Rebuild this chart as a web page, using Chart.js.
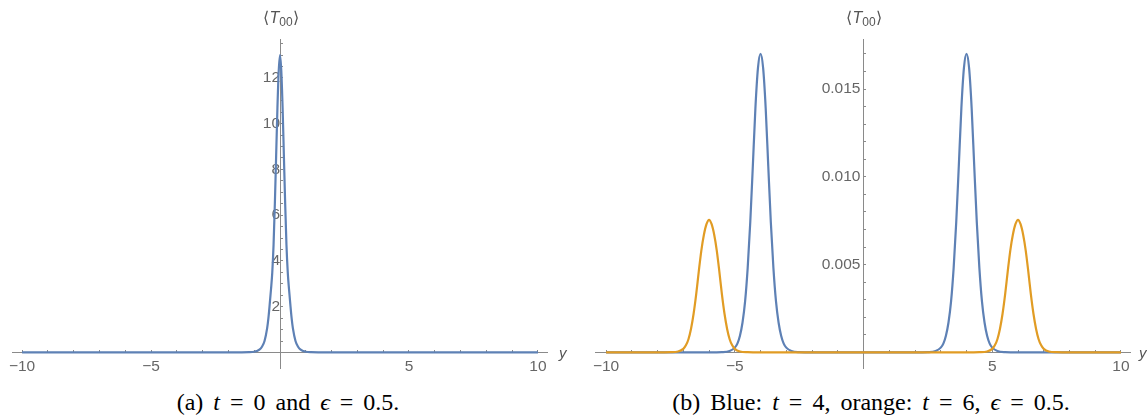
<!DOCTYPE html>
<html>
<head>
<meta charset="utf-8">
<script src="https://cdn.jsdelivr.net/npm/chart.js@4.4.0/dist/chart.umd.min.js"></script>
<style>
  body { margin: 0; width: 1147px; height: 418px; background: #fff; position: relative; overflow: hidden; font-family: "Liberation Sans", Arial, sans-serif; }
  canvas { position: absolute; top: 0; }
  #left { left: 0; }
  #right { left: 575px; }
  .ylab { position: absolute; top: 8px; font-size: 16px; color: #555; transform: translateX(-50%); white-space: nowrap; }
  .ylab sub { font-size: 12px; vertical-align: -3px; }
  .xlab { position: absolute; top: 344px; font-size: 15px; font-style: italic; color: #555; }
  .caption { position: absolute; top: 389px; font-family: "Liberation Serif", serif; font-size: 24px; word-spacing: 4px; color: #000; transform: translateX(-50%); white-space: nowrap; }
</style>
</head>
<body>
<canvas id="left" width="570" height="385"></canvas>
<canvas id="right" width="572" height="385"></canvas>

<div class="ylab" style="left:281px">⟨<i>T</i><sub>00</sub>⟩</div>
<div class="ylab" style="left:864px">⟨<i>T</i><sub>00</sub>⟩</div>
<div class="xlab" style="left:559px">y</div>
<div class="xlab" style="left:1139px">y</div>

<div class="caption" style="left:288px">(a) <i>t</i> = 0 and <i>ϵ</i> = 0.5.</div>
<div class="caption" style="left:871px">(b) Blue: <i>t</i> = 4, orange: <i>t</i> = 6, <i>ϵ</i> = 0.5.</div>

<script>
// (a) t = 0
const leftX = [-10, -3, -1.5, -1.2, -1, -0.9, -0.8, -0.7, -0.6, -0.5, -0.45, -0.4, -0.35, -0.3, -0.25, -0.2, -0.15, -0.1, -0.05,
  0, 0.05, 0.1, 0.15, 0.2, 0.25, 0.3, 0.35, 0.4, 0.45, 0.5, 0.6, 0.7, 0.8, 0.9, 1, 1.2, 1.5, 3, 10];
const leftY = [0, 0, 0.003, 0.01, 0.03, 0.06, 0.12, 0.25, 0.5, 1.05, 1.5, 2.1, 2.75, 3.5, 4.7, 6.5, 8.6, 10.7, 12.3,
  13.0, 12.3, 10.7, 8.6, 6.5, 4.7, 3.5, 2.75, 2.1, 1.5, 1.05, 0.5, 0.25, 0.12, 0.06, 0.03, 0.01, 0.003, 0, 0];

// (b) blue: t = 4
const blueX = [-10, -6, -5.5, -5.2, -5, -4.9, -4.8, -4.7, -4.6, -4.5, -4.4, -4.3, -4.2, -4.1, -4, -3.9, -3.8, -3.7, -3.6, -3.5,
  -3.4, -3.3, -3.2, -3.1, -3, -2.8, -2.5, -2, 2, 2.5, 2.8, 3, 3.1, 3.2, 3.3, 3.4, 3.5, 3.6, 3.7, 3.8, 3.9, 4, 4.1, 4.2, 4.3,
  4.4, 4.5, 4.6, 4.7, 4.8, 4.9, 5, 5.2, 5.5, 6, 10];
const blueY = [0, 0, 0.000015, 0.00008, 0.00027, 0.0005, 0.00095, 0.0017, 0.0029, 0.0048, 0.0074, 0.0106, 0.0139, 0.0162, 0.017,
  0.0162, 0.0139, 0.0106, 0.0074, 0.0048, 0.0029, 0.0017, 0.00095, 0.0005, 0.00027, 0.00008, 0.000015, 0,
  0, 0.000015, 0.00008, 0.00027, 0.0005, 0.00095, 0.0017, 0.0029, 0.0048, 0.0074, 0.0106, 0.0139, 0.0162, 0.017,
  0.0162, 0.0139, 0.0106, 0.0074, 0.0048, 0.0029, 0.0017, 0.00095, 0.0005, 0.00027, 0.00008, 0.000015, 0, 0];

// (b) orange: t = 6
const orangeX = [-10, -8, -7.5, -7.2, -7, -6.9, -6.8, -6.7, -6.6, -6.5, -6.4, -6.3, -6.2, -6.1, -6, -5.9, -5.8, -5.7, -5.6, -5.5,
  -5.4, -5.3, -5.2, -5.1, -5, -4.8, -4.5, -4, 4, 4.5, 4.8, 5, 5.1, 5.2, 5.3, 5.4, 5.5, 5.6, 5.7, 5.8, 5.9, 6, 6.1, 6.2, 6.3,
  6.4, 6.5, 6.6, 6.7, 6.8, 6.9, 7, 7.2, 7.5, 8, 10];
const orangeY = [0, 0, 0.00001, 0.00005, 0.0002, 0.0004, 0.00075, 0.00135, 0.0022, 0.0033, 0.0046, 0.0058, 0.0067, 0.0073, 0.00755,
  0.0073, 0.0067, 0.0058, 0.0046, 0.0033, 0.0022, 0.00135, 0.00075, 0.0004, 0.0002, 0.00005, 0.00001, 0,
  0, 0.00001, 0.00005, 0.0002, 0.0004, 0.00075, 0.00135, 0.0022, 0.0033, 0.0046, 0.0058, 0.0067, 0.0073, 0.00755,
  0.0073, 0.0067, 0.0058, 0.0046, 0.0033, 0.0022, 0.00135, 0.00075, 0.0004, 0.0002, 0.00005, 0.00001, 0, 0];

// ticks
const xTicks = [-10, -9, -8, -7, -6, -5, -4, -3, -2, -1, 1, 2, 3, 4, 5, 6, 7, 8, 9, 10];
const xTickLabels = [-10, -5, 5, 10];
const leftYTicks = [0.5, 1, 1.5, 2, 2.5, 3, 3.5, 4, 4.5, 5, 5.5, 6, 6.5, 7, 7.5, 8, 8.5, 9, 9.5, 10, 10.5, 11, 11.5, 12, 12.5, 13, 13.5];
const leftYTickLabels = [2, 4, 6, 8, 10, 12];
const rightYTicks = [0.001, 0.002, 0.003, 0.004, 0.005, 0.006, 0.007, 0.008, 0.009, 0.01, 0.011, 0.012, 0.013, 0.014, 0.015, 0.016, 0.017];
const rightYTickLabels = [0.005, 0.01, 0.015];

const BLUE = "#5e81b5";
const ORANGE = "#e19c24";
const AXIS = "#8a8a8a";
const LABEL = "#666";

const points = (xs, ys) => xs.map((x, i) => ({ x: x, y: ys[i] }));
const minus = (s) => s.replace("-", "\u2212");

function line(label, xs, ys, color, order) {
  return {
    label: label,
    data: points(xs, ys),
    borderColor: color,
    borderWidth: 2.2,
    pointRadius: 0,
    fill: false,
    cubicInterpolationMode: "monotone",
    order: order,
  };
}

function axisOpts(horizontal, min, max, tickValues, labelled, format, padding, crossAt) {
  return {
    type: "linear",
    min: min,
    max: max,
    position: horizontal ? { y: 0 } : { x: crossAt },
    afterBuildTicks: (scale) => {
      scale.ticks = tickValues.map((v) => ({ value: v }));
    },
    afterFit: (scale) => {
      if (horizontal) scale.height = 0;
      else scale.width = 0;
    },
    border: { display: true, color: AXIS, width: 1 },
    grid: { display: true, drawOnChartArea: false, drawTicks: true, tickLength: -3, tickColor: AXIS, tickWidth: 1 },
    ticks: {
      autoSkip: false,
      maxRotation: 0,
      padding: padding,
      color: LABEL,
      font: { family: "'Liberation Sans', Arial, sans-serif", size: 15.5 },
      callback: (v) => (labelled.includes(v) ? format(v) : ""),
    },
  };
}

function makeChart(id, datasets, xmin, xmax, ymin, ymax, yTicks, yLabels, yFormat, pad, yCross) {
  return new Chart(document.getElementById(id), {
    type: "line",
    data: { datasets: datasets },
    options: {
      responsive: false,
      animation: false,
      events: [],
      layout: { padding: pad },
      plugins: { legend: { display: false }, tooltip: { enabled: false } },
      scales: {
        x: axisOpts(true, xmin, xmax, xTicks, xTickLabels, (v) => minus(String(v)), 8, 0),
        y: axisOpts(false, ymin, ymax, yTicks, yLabels, yFormat, 0, yCross),
      },
    },
  });
}

makeChart(
  "left",
  [line("t = 0", leftX, leftY, BLUE, 0)],
  -10.39, 10.35, -0.68, 13.7,
  leftYTicks, leftYTickLabels, (v) => String(v),
  { left: 12, right: 23, top: 39, bottom: 17 }, 0
);

makeChart(
  "right",
  [line("t = 4", blueX, blueY, BLUE, 1), line("t = 6", orangeX, orangeY, ORANGE, 0)],
  -10.43, 10.35, -0.00089, 0.01785,
  rightYTicks, rightYTickLabels, (v) => v.toFixed(3) + "\u2009",
  { left: 20, right: 17, top: 39, bottom: 17 }, 0
);
</script>
</body>
</html>
